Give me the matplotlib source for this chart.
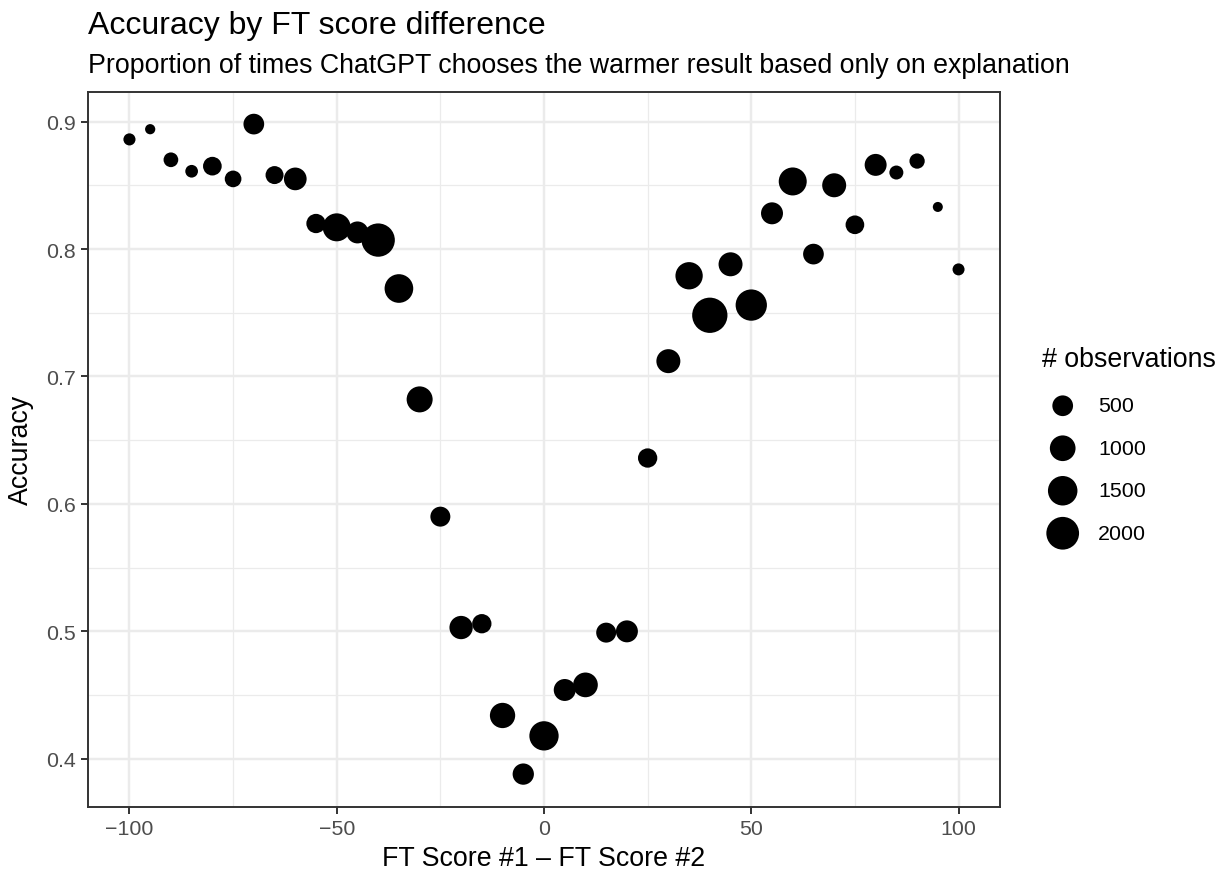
import numpy as np
import matplotlib
matplotlib.use("Agg")
import matplotlib.pyplot as plt
from matplotlib.ticker import MultipleLocator

plt.rcParams['font.family'] = ['Liberation Sans', 'DejaVu Sans']

# FT score difference (x), accuracy (y) and number of observations (size)
score_diff = [-100, -95, -90, -85, -80, -75, -70, -65, -60, -55, -50, -45, -40,
              -35, -30, -25, -20, -15, -10, -5, 0, 5, 10, 15, 20, 25, 30, 35,
              40, 45, 50, 55, 60, 65, 70, 75, 80, 85, 90, 95, 100]
accuracy = [0.886, 0.894, 0.870, 0.861, 0.865, 0.855, 0.898, 0.858, 0.855, 0.820,
            0.817, 0.813, 0.807, 0.769, 0.682, 0.590, 0.503, 0.506, 0.434, 0.388,
            0.418, 0.454, 0.458, 0.499, 0.500, 0.636, 0.712, 0.779, 0.748, 0.788,
            0.756, 0.828, 0.853, 0.796, 0.850, 0.819, 0.866, 0.860, 0.869, 0.833,
            0.784]
n_obs = [40, 8, 125, 55, 345, 220, 500, 300, 680, 390, 1290, 610, 2100,
         1380, 1040, 440, 740, 390, 955, 550, 1470, 610, 890, 440, 610, 390,
         810, 1200, 2450, 810, 1770, 610, 1290, 500, 810, 345, 610, 97, 150,
         6, 38]

size_breaks = [500, 1000, 1500, 2000]
x_ticks = [-100, -50, 0, 50, 100]
y_ticks = [0.4, 0.5, 0.6, 0.7, 0.8, 0.9]

DPI = 175


def marker_area(n):
    # diameter in pixels grows with sqrt(n) (area scale), converted to pt^2
    d_px = 8.7 + 0.537 * np.sqrt(np.asarray(n, dtype=float))
    d_pt = d_px / DPI * 72
    return d_pt ** 2


fig = plt.figure(figsize=(1227 / DPI, 876 / DPI), dpi=DPI)
ax = fig.add_axes([88 / 1227, 1 - 807.6 / 876, 912 / 1227, 715 / 876])

ax.scatter(score_diff, accuracy, s=marker_area(n_obs), c='black',
           linewidths=0, zorder=3)

ax.set_xlim(-110, 110)
y_span = max(accuracy) - min(accuracy)
ax.set_ylim(min(accuracy) - 0.05 * y_span, max(accuracy) + 0.05 * y_span)
ax.set_xticks(x_ticks)
ax.set_yticks(y_ticks)
ax.set_yticklabels([f"{v:.1f}" for v in y_ticks])
ax.xaxis.set_minor_locator(MultipleLocator(25))
ax.yaxis.set_minor_locator(MultipleLocator(0.05))

ax.grid(True, which='major', color='#EBEBEB', linewidth=1.0, zorder=0)
ax.grid(True, which='minor', color='#EBEBEB', linewidth=0.5, zorder=0)
ax.set_axisbelow(True)
for sp in ax.spines.values():
    sp.set_color('#333333')
    sp.set_linewidth(0.8)
ax.tick_params(which='major', length=2.75, width=0.8, color='#333333',
               labelsize=8.8, labelcolor='#4D4D4D', pad=2.2)
ax.tick_params(which='minor', length=0)

ax.set_xlabel('FT Score #1 \u2013 FT Score #2', fontsize=11, labelpad=3)
ax.set_ylabel('Accuracy', fontsize=11, labelpad=5)

fig.text(88 / 1227, 1 - 34 / 876, 'Accuracy by FT score difference',
         fontsize=13.2, ha='left', va='baseline')
fig.text(88 / 1227, 1 - 73 / 876,
         'Proportion of times ChatGPT chooses the warmer result based only on explanation',
         fontsize=11, ha='left', va='baseline')

# size legend
fig.text(1042 / 1227, 1 - 360 / 876, '# observations', fontsize=11,
         ha='left', va='center')
leg = fig.add_axes([1040 / 1227, 1 - 555.5 / 876, 187 / 1227, 170 / 876])
leg.set_xlim(0, 187)
leg.set_ylim(len(size_breaks) - 0.5, -0.5)
leg.axis('off')
rows = list(range(len(size_breaks)))
leg.scatter([22.7] * len(rows), rows, s=marker_area(size_breaks), c='black',
            linewidths=0, clip_on=False)
for r, b in zip(rows, size_breaks):
    leg.text(58, r, str(b), fontsize=8.8, ha='left', va='center')

fig.savefig('out.png', dpi=DPI)
